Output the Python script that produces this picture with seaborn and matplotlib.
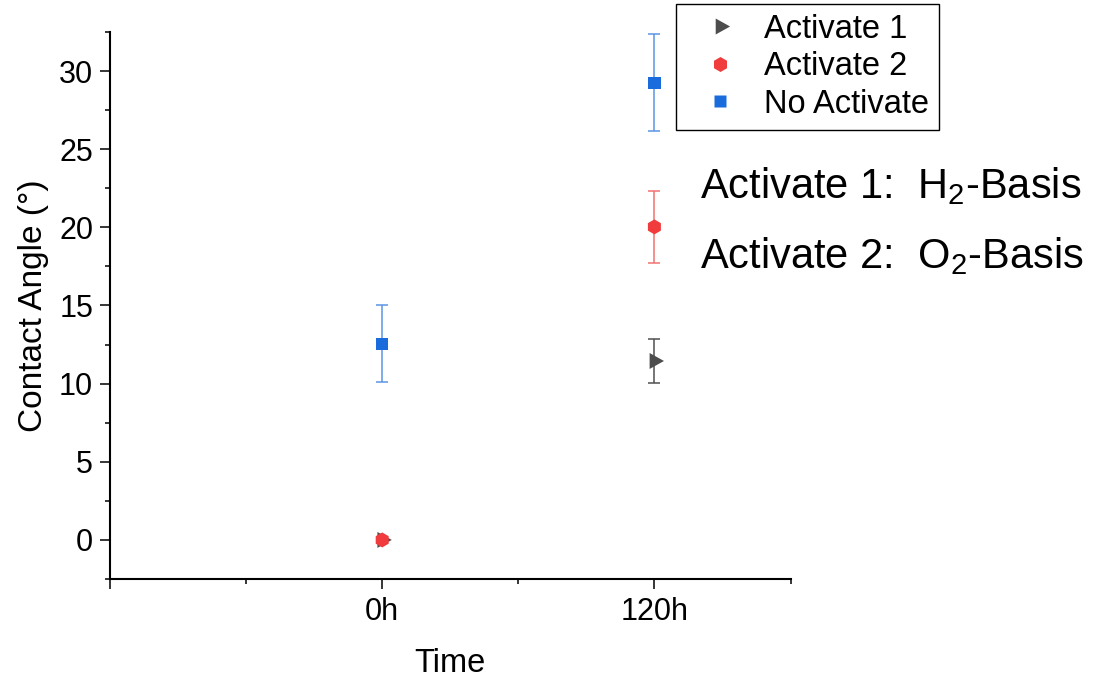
import numpy as np
import pandas as pd
import matplotlib
matplotlib.use("Agg")
import matplotlib.pyplot as plt
from matplotlib.path import Path
from matplotlib.lines import Line2D
from matplotlib.ticker import FixedLocator, MultipleLocator
import seaborn as sns

# ---- data ----
times = ["0h", "120h"]
series = ["Activate 1", "Activate 2", "No Activate"]
act1_mean = [0.0, 11.45]
act1_err = [0.0, 1.40]
act2_mean = [0.0, 20.03]
act2_err = [0.0, 2.31]
noact_mean = [12.55, 29.25]
noact_err = [2.46, 3.10]

colors = {"Activate 1": "#4D4D4D", "Activate 2": "#F03C3C", "No Activate": "#1A6CDC"}
err_colors = {"Activate 1": "#505050", "Activate 2": "#F27272", "No Activate": "#5C94E6"}

# triangle centred at its centroid (like Origin)
tri = Path([(9.6, 0.0), (-4.8, 8.0), (-4.8, -8.0), (9.6, 0.0)],
           [Path.MOVETO, Path.LINETO, Path.LINETO, Path.CLOSEPOLY])
markers = {"Activate 1": tri, "Activate 2": "h", "No Activate": "s"}
msizes = {"Activate 1": 13.8, "Activate 2": 10.8, "No Activate": 8.9}

rows = []
for name, m, e in [("Activate 1", act1_mean, act1_err),
                   ("Activate 2", act2_mean, act2_err),
                   ("No Activate", noact_mean, noact_err)]:
    for i, t in enumerate(times):
        rows.append({"Series": name, "Time": t, "pos": i + 1, "Angle": m[i], "Err": e[i]})
df = pd.DataFrame(rows)

sns.set_theme(style="ticks")
plt.rcParams["font.family"] = ["Liberation Sans", "DejaVu Sans"]
plt.rcParams["mathtext.fontset"] = "custom"
plt.rcParams["mathtext.rm"] = "Liberation Sans"
plt.rcParams["mathtext.it"] = "Liberation Sans"
plt.rcParams["text.color"] = "black"

fig = plt.figure(figsize=(10.94, 6.81), dpi=100)
ax = fig.add_axes([110 / 1094, 1 - 579 / 681, (790.5 - 110) / 1094, (579 - 32) / 681])

for name in series:
    d = df[df["Series"] == name]
    ax.errorbar(d["pos"], d["Angle"], yerr=d["Err"], fmt="none",
                ecolor=err_colors[name], elinewidth=1.1, capsize=4.2,
                capthick=1.1, zorder=2)

for z, name in enumerate(series):
    d = df[df["Series"] == name]
    sns.scatterplot(data=d, x="pos", y="Angle", marker=markers[name],
                    s=msizes[name] ** 2, color=colors[name], edgecolor="none",
                    linewidth=0, ax=ax, legend=False, zorder=3 + z)

ax.set_xlim(0, 2.5)
ax.set_ylim(-2.5, 32.5)
ax.xaxis.set_major_locator(FixedLocator([0, 1, 2]))
ax.set_xticklabels([""] + times)
ax.xaxis.set_minor_locator(FixedLocator([0.5, 1.5, 2.5]))
ax.yaxis.set_major_locator(MultipleLocator(5))
ax.yaxis.set_minor_locator(MultipleLocator(2.5))

for s in ["top", "right"]:
    ax.spines[s].set_visible(False)
for s in ["left", "bottom"]:
    ax.spines[s].set_linewidth(1.5)
    ax.spines[s].set_color("black")

ax.tick_params(axis="both", which="major", direction="out", length=7.2, width=1.1,
               color="black", labelsize=22, labelcolor="black")
ax.tick_params(axis="both", which="minor", direction="out", length=3.6, width=1.1,
               color="black")
ax.tick_params(axis="y", which="major", pad=5)
ax.tick_params(axis="x", which="major", pad=6)

ax.set_xlabel("Time", fontsize=23.5, color="black", labelpad=15)
ax.set_ylabel("Contact Angle (°)", fontsize=24, color="black", labelpad=7)

handles = [Line2D([], [], linestyle="none", marker=markers[n], markersize=msizes[n],
                  markerfacecolor=colors[n], markeredgecolor="none") for n in series]
leg = ax.legend(handles, series, loc="upper left", bbox_to_anchor=(676 / 1094, 1 - 4 / 681),
                bbox_transform=fig.transFigure, borderaxespad=0, fontsize=23.5,
                frameon=True, fancybox=False, framealpha=1, edgecolor="black",
                labelspacing=0.2, borderpad=0.3, handletextpad=0.3, handlelength=2.1,
                labelcolor="black")
leg.get_frame().set_linewidth(1.0)

fig.text(700 / 1094, 1 - 198 / 681, "Activate 1:  H$_2$-Basis", fontsize=30,
         va="baseline", ha="left", color="black")
fig.text(700 / 1094, 1 - 268 / 681, "Activate 2:  O$_2$-Basis", fontsize=30,
         va="baseline", ha="left", color="black")

fig.savefig("out.png", dpi=100)
